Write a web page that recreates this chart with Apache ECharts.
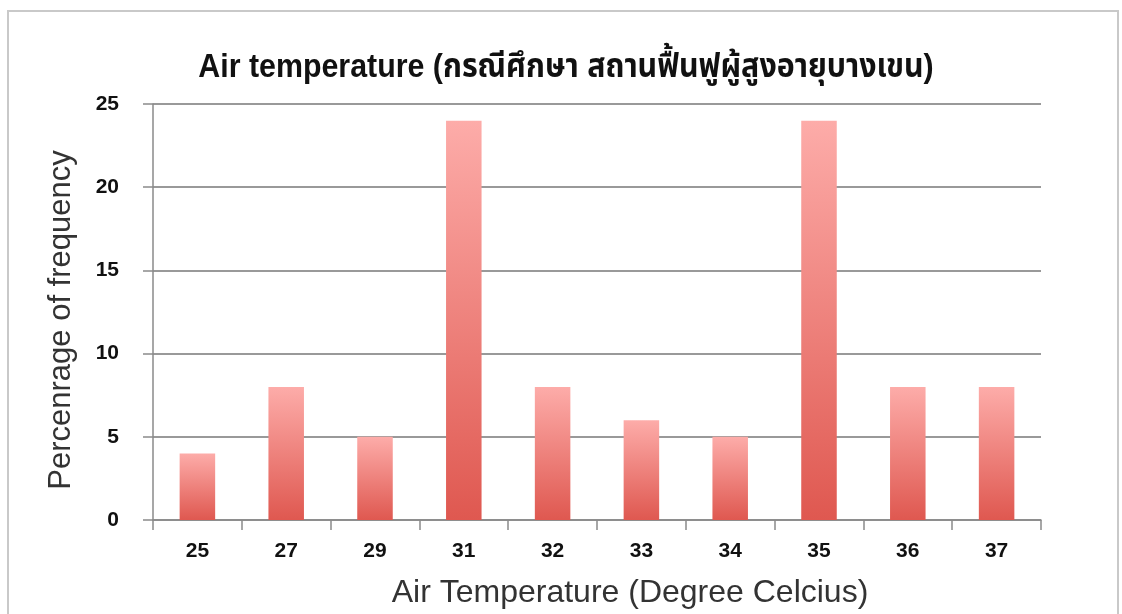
<!DOCTYPE html>
<html>
<head>
<meta charset="utf-8">
<script src="https://cdn.jsdelivr.net/npm/echarts@6/dist/echarts.min.js"></script>
<style>
  html, body { margin: 0; padding: 0; background: #fff; }
  #chart { width: 1122px; height: 614px; }
</style>
</head>
<body>
<div id="chart"></div>
<script>
// Air temperature readings (°C) and share of observations in each
const temperatures = ['25', '27', '29', '31', '32', '33', '34', '35', '36', '37'];
const frequencyPercent = [4, 8, 5, 24, 8, 6, 5, 24, 8, 8];
const yTicks = { min: 0, max: 25, interval: 5 };
const chartTitle = 'Air temperature (กรณีศึกษา สถานฟื้นฟูผู้สูงอายุบางเขน)';

const chart = echarts.init(document.getElementById('chart'), null, { renderer: 'canvas' });

const barFill = new echarts.graphic.LinearGradient(0, 0, 0, 1, [
  { offset: 0, color: '#fdaca9' },
  { offset: 1, color: '#df5850' }
]);

const labelFont = '"Liberation Sans", Arial, sans-serif';

chart.setOption({
  animation: false,
  backgroundColor: '#ffffff',
  graphic: [
    {
      type: 'rect',
      silent: true,
      shape: { x: 8, y: 11, width: 1110, height: 620 },
      style: { fill: 'none', stroke: '#c9c9c9', lineWidth: 2 }
    },
    {
      // condensed heading, squeezed horizontally
      type: 'text',
      silent: true,
      x: 566,
      y: 68,
      scaleX: 0.92,
      style: {
        text: chartTitle,
        align: 'center',
        verticalAlign: 'middle',
        fontFamily: '"Liberation Sans", "Noto Sans Thai", "Noto Sans", sans-serif',
        fontWeight: 'bold',
        fontSize: 33,
        fill: '#111'
      }
    }
  ],
  grid: { left: 153, right: 81, top: 104, bottom: 89, containLabel: false },
  xAxis: {
    type: 'category',
    data: temperatures,
    name: 'Air Temperature (Degree Celcius)',
    nameLocation: 'middle',
    nameGap: 57,
    nameTextStyle: { fontFamily: labelFont, fontSize: 32, color: '#333', padding: [0, 0, 0, 66] },
    axisLine: { lineStyle: { color: '#8a8a8a', width: 1.5 } },
    axisTick: { show: true, length: 10, lineStyle: { color: '#8a8a8a', width: 1.5 } },
    axisLabel: {
      margin: 21,
      fontFamily: labelFont,
      fontWeight: 'bold',
      fontSize: 21,
      color: '#111'
    }
  },
  yAxis: {
    type: 'value',
    min: yTicks.min,
    max: yTicks.max,
    interval: yTicks.interval,
    name: 'Percenrage of frequency',
    nameLocation: 'middle',
    nameGap: 76,
    nameTextStyle: { fontFamily: labelFont, fontSize: 31, color: '#333', padding: [0, 16, 0, 0] },
    axisLine: { show: true, lineStyle: { color: '#8a8a8a', width: 1.5 } },
    axisTick: { show: true, length: 10, lineStyle: { color: '#8a8a8a', width: 1.5 } },
    splitLine: { lineStyle: { color: '#999999', width: 2 } },
    axisLabel: {
      margin: 34,
      fontFamily: labelFont,
      fontWeight: 'bold',
      fontSize: 21,
      color: '#111'
    }
  },
  series: [{
    type: 'bar',
    data: frequencyPercent,
    barWidth: '40%',
    itemStyle: { color: barFill }
  }]
});
</script>
</body>
</html>
